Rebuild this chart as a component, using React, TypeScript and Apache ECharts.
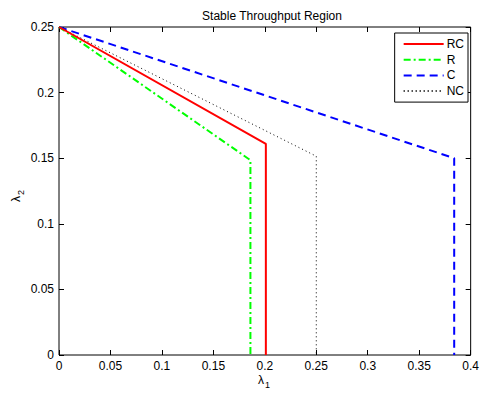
import React, { useEffect, useRef } from "react";
import * as echarts from "echarts";

const seriesNames = ["RC", "R", "C", "NC"];
const rcData = [[0, 0.25], [0.201, 0.161], [0.201, 0]];
const rData = [[0, 0.25], [0.186, 0.1485], [0.186, 0]];
const cData = [[0, 0.25], [0.384, 0.15], [0.384, 0]];
const ncData = [[0, 0.25], [0.25, 0.1515], [0.25, 0]];
const xTicks = { min: 0, max: 0.4, interval: 0.05 };
const yTicks = { min: 0, max: 0.25, interval: 0.05 };

const FONT = "Liberation Sans, Arial, Helvetica, sans-serif";

export default function App() {
  const ref = useRef<HTMLDivElement>(null);
  useEffect(() => {
    const chart = echarts.init(ref.current!, null, { renderer: "svg" });
    const fmt = (v: number) => {
      if (v === 0) return "0";
      return String(parseFloat(v.toFixed(2)));
    };
    const axisCommon = {
      axisLine: { show: false, onZero: false },
      splitLine: { show: false },
      axisTick: { show: true, inside: true, length: 5, lineStyle: { color: "#000", width: 1 } },
    };
    chart.setOption({
      animation: false,
      backgroundColor: "#fff",
      title: {
        text: "Stable Throughput Region",
        left: 267,
        textAlign: "center",
        top: 5,
        textStyle: { fontFamily: FONT, fontSize: 12, fontWeight: "normal", color: "#000" },
      },
      grid: {
        left: 59,
        right: 7,
        top: 27,
        bottom: 39,
        show: true,
        borderColor: "#000",
        borderWidth: 1,
        backgroundColor: "#fff",
      },
      legend: {
        data: seriesNames,
        orient: "vertical",
        right: 14,
        top: 33,
        padding: [5, 4, 5, 8],
        itemWidth: 40,
        itemHeight: 10,
        itemGap: 3.7,
        backgroundColor: "#fff",
        borderColor: "#000",
        borderWidth: 1,
        borderRadius: 0,
        itemStyle: { opacity: 0 },
        textStyle: { fontFamily: FONT, fontSize: 12, color: "#000", padding: [0, 0, 0, -2] },
      },
      xAxis: [
        {
          type: "value",
          position: "bottom",
          ...xTicks,
          ...axisCommon,
          axisLabel: { fontFamily: FONT, fontSize: 12, color: "#000", margin: 5, formatter: fmt },
        },
        {
          type: "value",
          position: "top",
          ...xTicks,
          ...axisCommon,
          axisLabel: { show: false },
        },
      ],
      yAxis: [
        {
          type: "value",
          position: "left",
          ...yTicks,
          ...axisCommon,
          axisLabel: { fontFamily: FONT, fontSize: 12, color: "#000", margin: 5, formatter: fmt },
        },
        {
          type: "value",
          position: "right",
          ...yTicks,
          ...axisCommon,
          axisLabel: { show: false },
        },
      ],
      series: [
        {
          name: "RC",
          type: "line",
          data: rcData,
          symbol: "none",
          lineStyle: { color: "#ff0000", width: 2, type: "solid" },
          itemStyle: { color: "#ff0000" },
          z: 4,
        },
        {
          name: "R",
          type: "line",
          data: rData,
          symbol: "none",
          lineStyle: { color: "#00ff00", width: 2, type: [7, 3, 2, 3] },
          itemStyle: { color: "#00ff00" },
          z: 3,
        },
        {
          name: "C",
          type: "line",
          data: cData,
          symbol: "none",
          lineStyle: { color: "#0000ff", width: 2, type: [8, 5] },
          itemStyle: { color: "#0000ff" },
          z: 2,
        },
        {
          name: "NC",
          type: "line",
          data: ncData,
          symbol: "none",
          lineStyle: { color: "#000", width: 1, type: [1, 3] },
          itemStyle: { color: "#000" },
          z: 1,
        },
      ],
      graphic: [
        {
          type: "group",
          left: 258,
          top: 374,
          children: [
            { type: "text", x: 0, y: 0, style: { text: "λ", font: `12px ${FONT}`, fill: "#000" } },
            { type: "text", x: 7, y: 6, style: { text: "1", font: `9px ${FONT}`, fill: "#000" } },
          ],
        },
        {
          type: "group",
          x: 10,
          y: 202,
          rotation: Math.PI / 2,
          children: [
            { type: "text", x: 0, y: 0, style: { text: "λ", font: `12px ${FONT}`, fill: "#000" } },
            { type: "text", x: 7, y: 6, style: { text: "2", font: `9px ${FONT}`, fill: "#000" } },
          ],
        },
      ],
    });
    return () => chart.dispose();
  }, []);
  return (
    <div
      ref={ref}
      style={{ width: 482, height: 394, position: "absolute", left: 0, top: 0, background: "#fff" }}
    />
  );
}
